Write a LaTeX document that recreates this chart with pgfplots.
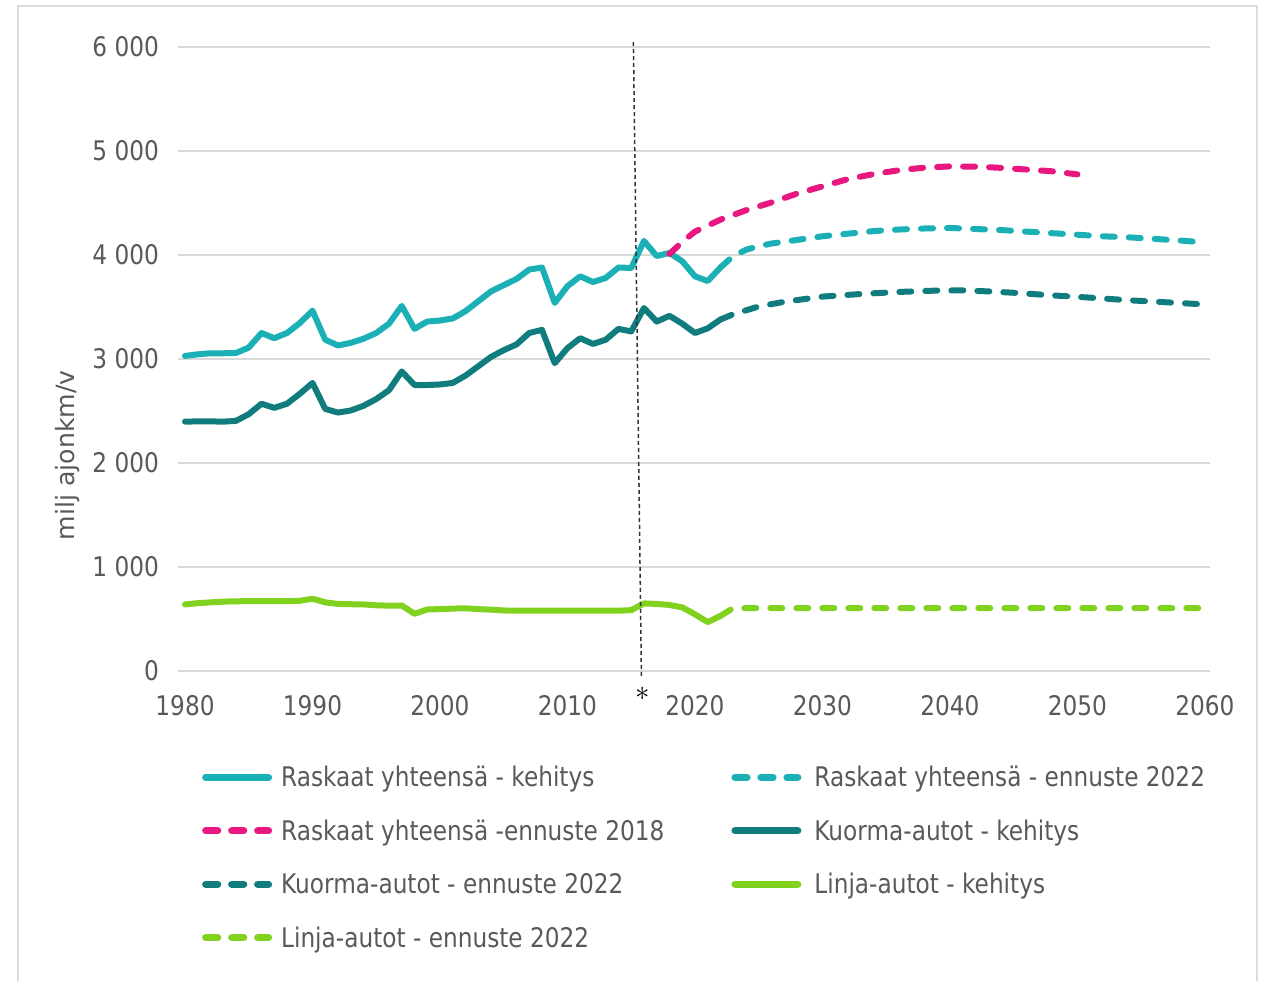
\documentclass[border=0pt]{standalone}
\usepackage{pgfplots}
\pgfplotsset{compat=1.18}
\usepackage{fontspec}
\setmainfont{DejaVu Sans}[FakeStretch=0.86]
\newfontfamily\ylfont{DejaVu Sans}
\definecolor{rteal}{RGB}{26,176,181}
\definecolor{kteal}{RGB}{16,124,126}
\definecolor{rpink}{RGB}{232,24,128}
\definecolor{lgreen}{RGB}{128,210,30}
\definecolor{txtgray}{RGB}{89,89,89}
\definecolor{gridgray}{RGB}{217,217,217}
\definecolor{framegray}{RGB}{220,220,220}
\begin{document}
\begin{tikzpicture}
\path[use as bounding box] (0,0) rectangle (631.5pt,490pt);
\draw[framegray, line width=1pt] (9pt,-5pt) rectangle (628.5pt,487pt);
\begin{axis}[
  at={(89pt,154.5pt)}, anchor=south west,
  scale only axis, width=516pt, height=312pt,
  xmin=1979.45, xmax=2060.4, ymin=0, ymax=6000,
  clip=false,
  axis line style={draw=none},
  tick style={draw=none},
  ymajorgrids, grid style={draw=gridgray, line width=1pt},
  xtick={1980,1990,2000,2010,2020,2030,2040,2050,2060},
  xticklabels={1980,1990,2000,2010,2020,2030,2040,2050,2060},
  ytick={0,1000,2000,3000,4000,5000,6000},
  yticklabels={0,1 000,2 000,3 000,4 000,5 000,6 000},
  ticklabel style={font=\fontsize{13.5}{16}\selectfont, text=txtgray},
  xticklabel style={yshift=-8.5pt},
  yticklabel style={xshift=-6pt},
  ylabel={milj ajonkm/v},
  ylabel style={at={(axis description cs:-0.1066,0.346)}, anchor=center, font=\ylfont\fontsize{12.6}{15}\selectfont, text=txtgray},
  legend columns=2,
  legend cell align=left,
  legend image code/.code={\draw[#1, line width=3.6pt, line cap=round] (1.8pt,0pt) -- (33.2pt,0pt);},
  legend style={draw=none, fill=none, at={(axis description cs:0.0230,-0.1466)}, anchor=north west,
    inner sep=0pt, row sep=12.2pt,
    nodes={inner sep=0pt, text height=12pt, text depth=2.5pt, text=txtgray, font=\fontsize{13.5}{16}\selectfont},
    /tikz/column 1/.style={column sep=4.5pt},
    /tikz/column 2/.style={column sep=33.5pt},
    /tikz/column 3/.style={column sep=6.5pt}},
  every axis plot/.append style={line width=3pt, line join=round, line cap=round},
  dsh/.style={dash pattern=on 6pt off 7pt},
]
% Raskaat yhteensä - kehitys
\addplot[rteal, solid] coordinates {
(1980,3030)(1981,3045)(1982,3055)(1983,3055)(1984,3058)(1985,3110)(1986,3250)(1987,3200)
(1988,3250)(1989,3345)(1990,3465)(1991,3185)(1992,3130)(1993,3155)(1994,3195)(1995,3250)
(1996,3340)(1997,3510)(1998,3290)(1999,3360)(2000,3370)(2001,3390)(2002,3460)(2003,3555)
(2004,3650)(2005,3710)(2006,3770)(2007,3860)(2008,3880)(2009,3540)(2010,3700)(2011,3795)
(2012,3740)(2013,3780)(2014,3880)(2015,3875)(2016,4135)(2017,3990)(2018,4020)(2019,3940)
(2020,3795)(2021,3750)(2022,3880)};
\addlegendentry{Raskaat yhteensä - kehitys}
% Raskaat yhteensä - ennuste 2022
\addplot[rteal, dsh] coordinates {
(2022,3880)(2023,3990)(2024,4050)(2025,4085)(2026,4110)(2028,4145)(2030,4180)(2032,4205)
(2034,4230)(2036,4245)(2038,4255)(2040,4260)(2042,4250)(2044,4240)(2046,4225)(2048,4210)
(2050,4195)(2052,4180)(2054,4170)(2056,4155)(2058,4140)(2060,4120)};
\addlegendentry{Raskaat yhteensä - ennuste 2022}
% Raskaat yhteensä - ennuste 2018
\addplot[rpink, dsh] coordinates {
(2018,4010)(2019,4125)(2020,4225)(2022,4340)(2024,4430)(2026,4505)(2028,4590)(2030,4660)
(2032,4730)(2034,4778)(2036,4815)(2038,4840)(2040,4852)(2042,4850)(2044,4838)(2046,4822)
(2048,4805)(2050,4775)};
\addlegendentry{Raskaat yhteensä -ennuste 2018}
% Kuorma-autot - kehitys
\addplot[kteal, solid] coordinates {
(1980,2398)(1981,2400)(1982,2400)(1983,2398)(1984,2405)(1985,2470)(1986,2570)(1987,2530)
(1988,2570)(1989,2665)(1990,2770)(1991,2520)(1992,2485)(1993,2505)(1994,2550)(1995,2615)
(1996,2700)(1997,2880)(1998,2750)(1999,2750)(2000,2755)(2001,2770)(2002,2840)(2003,2930)
(2004,3020)(2005,3085)(2006,3140)(2007,3250)(2008,3280)(2009,2960)(2010,3105)(2011,3200)
(2012,3145)(2013,3185)(2014,3290)(2015,3265)(2016,3490)(2017,3360)(2018,3415)(2019,3340)
(2020,3250)(2021,3295)(2022,3380)};
\addlegendentry{Kuorma-autot - kehitys}
% Kuorma-autot - ennuste 2022
\addplot[kteal, dsh] coordinates {
(2022,3380)(2023,3430)(2025,3505)(2027,3550)(2030,3600)(2033,3625)(2036,3645)(2039,3658)
(2041,3660)(2043,3650)(2045,3637)(2048,3612)(2051,3590)(2054,3565)(2057,3545)(2060,3525)};
\addlegendentry{Kuorma-autot - ennuste 2022}
% Linja-autot - kehitys
\addplot[lgreen, solid] coordinates {
(1980,640)(1981,652)(1982,660)(1983,667)(1984,670)(1985,672)(1986,672)(1987,672)(1988,672)
(1989,675)(1990,695)(1991,660)(1992,645)(1993,642)(1994,640)(1995,632)(1996,628)(1997,630)
(1998,550)(1999,592)(2000,595)(2001,600)(2002,603)(2003,595)(2004,590)(2005,582)(2006,580)
(2007,580)(2008,580)(2009,580)(2010,580)(2011,580)(2012,580)(2013,580)(2014,580)(2015,585)
(2016,650)(2017,645)(2018,635)(2019,612)(2020,545)(2021,470)(2022,530)};
\addlegendentry{Linja-autot - kehitys}
% Linja-autot - ennuste 2022
\addplot[lgreen, dsh] coordinates {
(2022,530)(2023,605)(2030,605)(2040,605)(2050,605)(2060,605)};
\addlegendentry{Linja-autot - ennuste 2022}
\draw[black!80, line width=0.75pt, dash pattern=on 2pt off 1.5pt] (axis cs:2015.17,6048) -- (axis cs:2015.8,-48);
\node[black, font=\fontsize{13.5}{16}\selectfont] at (axis cs:2015.9,-215) {$\ast$};
\end{axis}
\end{tikzpicture}
\end{document}
